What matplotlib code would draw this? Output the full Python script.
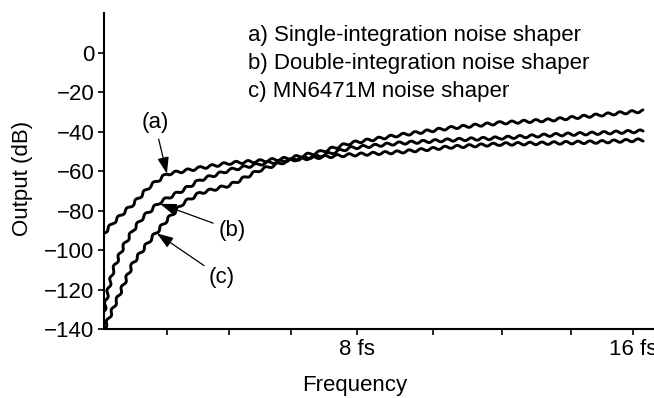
import matplotlib
matplotlib.use("Agg")
import matplotlib.pyplot as plt

plt.rcParams['font.family'] = ['Liberation Sans', 'DejaVu Sans']

# frequency in units of fs, output in dB
freq_a = [0.67, 0.93, 1.22, 1.51, 2.00, 2.49, 3.45, 4.32, 5.19, 6.06, 6.93, 7.80,
          9.25, 10.70, 12.14, 13.59, 15.04, 16.29]
out_a = [-91.3, -86.2, -81.2, -76.6, -67.5, -61.4, -58.3, -55.8, -54.8, -53.3, -50.2, -45.7,
         -41.6, -38.0, -35.5, -34.0, -31.4, -29.4]

freq_b = [0.67, 0.77, 0.93, 1.22, 1.51, 1.80, 2.29, 2.96, 3.45, 4.32, 5.19, 6.06, 6.93, 7.80,
          9.25, 10.70, 12.14, 13.59, 15.04, 16.29]
out_b = [-131.0, -121.8, -110.1, -98.4, -89.8, -83.2, -75.6, -69.5, -64.4, -59.3, -56.3, -54.3,
         -52.2, -48.2, -45.7, -44.1, -43.1, -41.6, -40.6, -39.6]

freq_c = [0.67, 1.04, 1.51, 2.00, 2.49, 2.96, 3.45, 4.32, 5.19, 6.06, 6.93, 7.80,
          9.25, 10.70, 12.14, 13.59, 15.04, 16.29]
out_c = [-140.0, -125.3, -106.5, -94.9, -84.7, -76.1, -71.0, -67.0, -59.3, -54.3, -52.8, -51.7,
         -50.2, -47.7, -46.2, -45.7, -45.1, -44.1]

yticks = [0, -20, -40, -60, -80, -100, -120, -140]
xticks = [2.5, 4.3, 6.1, 8, 10.2, 12.2, 14.2, 16]
xticklabels = ['', '', '', '8 fs', '', '', '', '16 fs']
legend_lines = ['a) Single-integration noise shaper',
                'b) Double-integration noise shaper',
                'c) MN6471M noise shaper']

W, H = 654, 398
fig = plt.figure(figsize=(W / 100, H / 100), dpi=100)
# axes: left spine at x=104px, bottom at y=329px, top at y=13px, runs off the right edge
ax = fig.add_axes([104 / W, 1 - 329 / H, (660 - 104) / W, (329 - 13) / H])

for f, o in [(freq_a, out_a), (freq_b, out_b), (freq_c, out_c)]:
    line, = ax.plot(f, o, color='black', lw=2.1, solid_capstyle='round')
    line.set_sketch_params(scale=1.3, length=12, randomness=1)

ax.set_xlim(0.667, 16.78)
ax.set_ylim(-140, 20.3)
ax.set_yticks(yticks)
ax.set_xticks(xticks)
ax.set_xticklabels(xticklabels)
ax.tick_params(labelsize=16, direction='out', length=4, width=1.2, pad=3)
for s in ['top', 'right']:
    ax.spines[s].set_visible(False)
for s in ['left', 'bottom']:
    ax.spines[s].set_linewidth(1.5)

ax.set_xlabel('Frequency', fontsize=16)
ax.xaxis.set_label_coords(0.451, -0.145)
ax.set_ylabel('Output (dB)', fontsize=16)
ax.yaxis.set_label_coords(-0.128, 0.478)

for i, t in enumerate(legend_lines):
    fig.text(248 / W, 1 - (35 + 28.5 * i) / H, t, fontsize=16, va='center', ha='left')

arrow = dict(arrowstyle='-|>,head_length=1.0,head_width=0.35', color='black', lw=0.9,
             mutation_scale=10, shrinkA=2, shrinkB=0)
ax.annotate('(a)', xy=(2.49, -61.2), xytext=(2.14, -35.5), fontsize=16,
            ha='center', va='center', arrowprops=arrow)
ax.annotate('(b)', xy=(2.29, -76.5), xytext=(4.38, -89.8), fontsize=16,
            ha='center', va='center', arrowprops=arrow)
ax.annotate('(c)', xy=(2.20, -91.5), xytext=(4.09, -114.1), fontsize=16,
            ha='center', va='center', arrowprops=arrow)

fig.savefig('out.png', dpi=100)
